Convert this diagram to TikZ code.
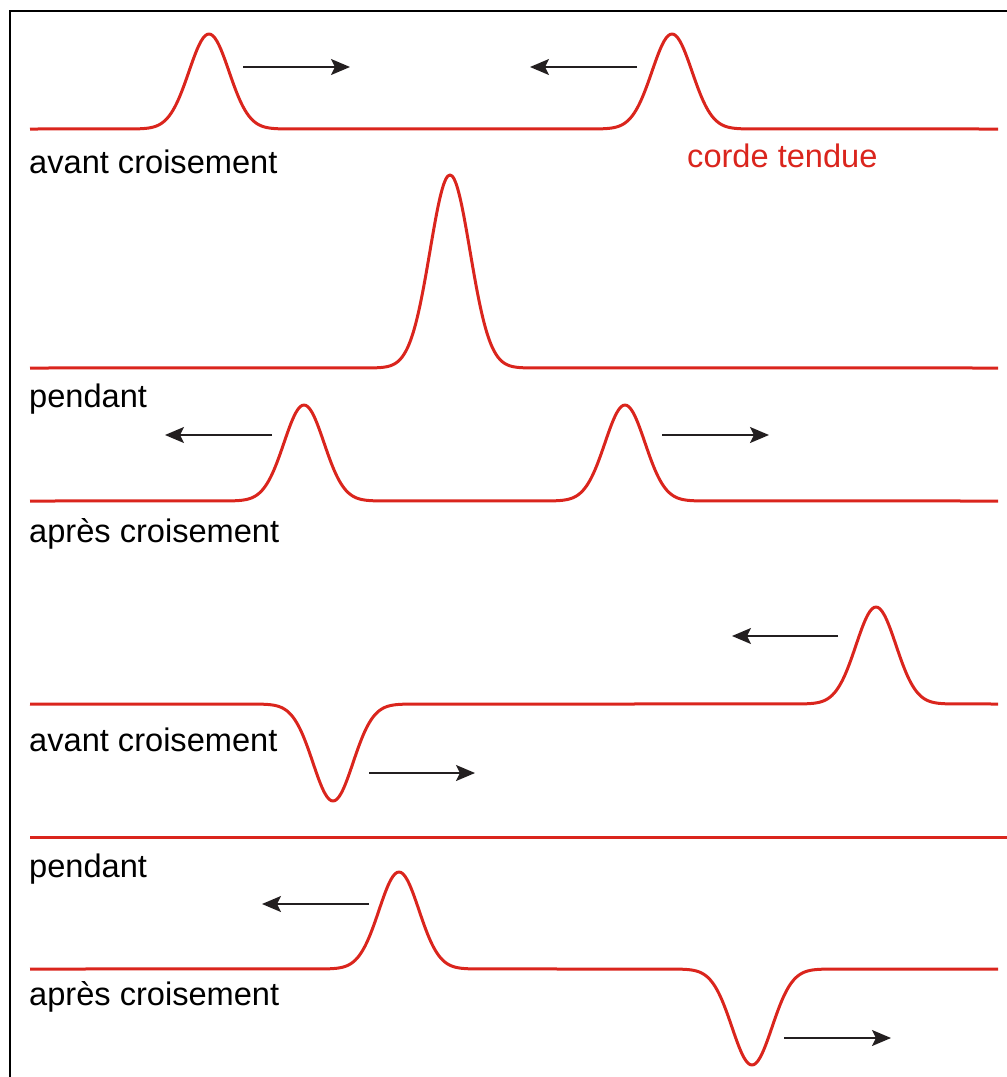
\documentclass[tikz,border=0pt]{standalone}
\usepackage{fontspec}
\setmainfont{Liberation Sans}
\usetikzlibrary{arrows.meta}
\definecolor{ropered}{RGB}{218,37,29}
\definecolor{arrowgray}{RGB}{35,31,32}
\tikzset{
  rope/.style={draw=ropered, line width=3pt, line join=round},
  motion/.style={draw=arrowgray, line width=1.6pt,
    -{Stealth[length=19pt,width=16pt,inset=4pt]}},
  caption/.style={anchor=base west, inner sep=0pt, text=black,
    font=\fontsize{32.6}{39}\selectfont},
  frameline/.style={draw=black, line width=2pt},
  bumpplot/.style={domain=-76:76, samples=77, smooth}
}
\begin{document}
\begin{tikzpicture}[x=1pt, y=-1pt]
\useasboundingbox (0,0) rectangle (1007,1077);
% frame
\draw[frameline] (10,1077) -- (10,11) -- (1007,11);

% ---- first sequence: two bumps of the same sign ----
\draw[rope] (30,129)
  -- plot[bumpplot] ({209+\x},{129-95*exp(-\x*\x/800)})
  -- plot[bumpplot] ({672+\x},{129-95*exp(-\x*\x/800)})
  -- (998,129);
\node[caption] (t1) at (29,173) {avant croisement};
\node[caption, text=ropered] (t0) at (687,167) {corde tendue};
\coordinate (a1s) at (243,67);  \coordinate (a1e) at (350,67);
\coordinate (a2s) at (637,67);  \coordinate (a2e) at (530,67);
\draw[motion] (a1s) -- (a1e);
\draw[motion] (a2s) -- (a2e);

\draw[rope] (30,368)
  -- plot[bumpplot] ({450+\x},{368-193*exp(-\x*\x/800)})
  -- (998,368);
\node[caption] (t2) at (29,407) {pendant};

\draw[rope] (30,501)
  -- plot[bumpplot] ({304+\x},{501-96*exp(-\x*\x/800)})
  -- plot[bumpplot] ({625+\x},{501-96*exp(-\x*\x/800)})
  -- (998,501);
\node[caption] (t3) at (29,542) {après croisement};
\coordinate (a3s) at (272,435); \coordinate (a3e) at (165,435);
\coordinate (a4s) at (662,435); \coordinate (a4e) at (769,435);
\draw[motion] (a3s) -- (a3e);
\draw[motion] (a4s) -- (a4e);

% ---- second sequence: bumps of opposite sign ----
\draw[rope] (30,704)
  -- plot[bumpplot] ({333+\x},{704+97*exp(-\x*\x/800)})
  -- plot[bumpplot] ({876+\x},{704-97*exp(-\x*\x/800)})
  -- (998,704);
\node[caption] (t4) at (29,751) {avant croisement};
\coordinate (a5s) at (838,636); \coordinate (a5e) at (732,636);
\coordinate (a6s) at (369,773); \coordinate (a6e) at (475,773);
\draw[motion] (a5s) -- (a5e);
\draw[motion] (a6s) -- (a6e);

\draw[rope] (30,837) -- (1007,837);
\node[caption] (t5) at (29,877) {pendant};

\draw[rope] (30,969)
  -- plot[bumpplot] ({399+\x},{969-97*exp(-\x*\x/800)})
  -- plot[bumpplot] ({752+\x},{969+96*exp(-\x*\x/800)})
  -- (998,969);
\node[caption] (t6) at (29,1005) {après croisement};
\coordinate (a7s) at (369,904);  \coordinate (a7e) at (262,904);
\coordinate (a8s) at (784,1038); \coordinate (a8e) at (891,1038);
\draw[motion] (a7s) -- (a7e);
\draw[motion] (a8s) -- (a8e);
\end{tikzpicture}
\end{document}
